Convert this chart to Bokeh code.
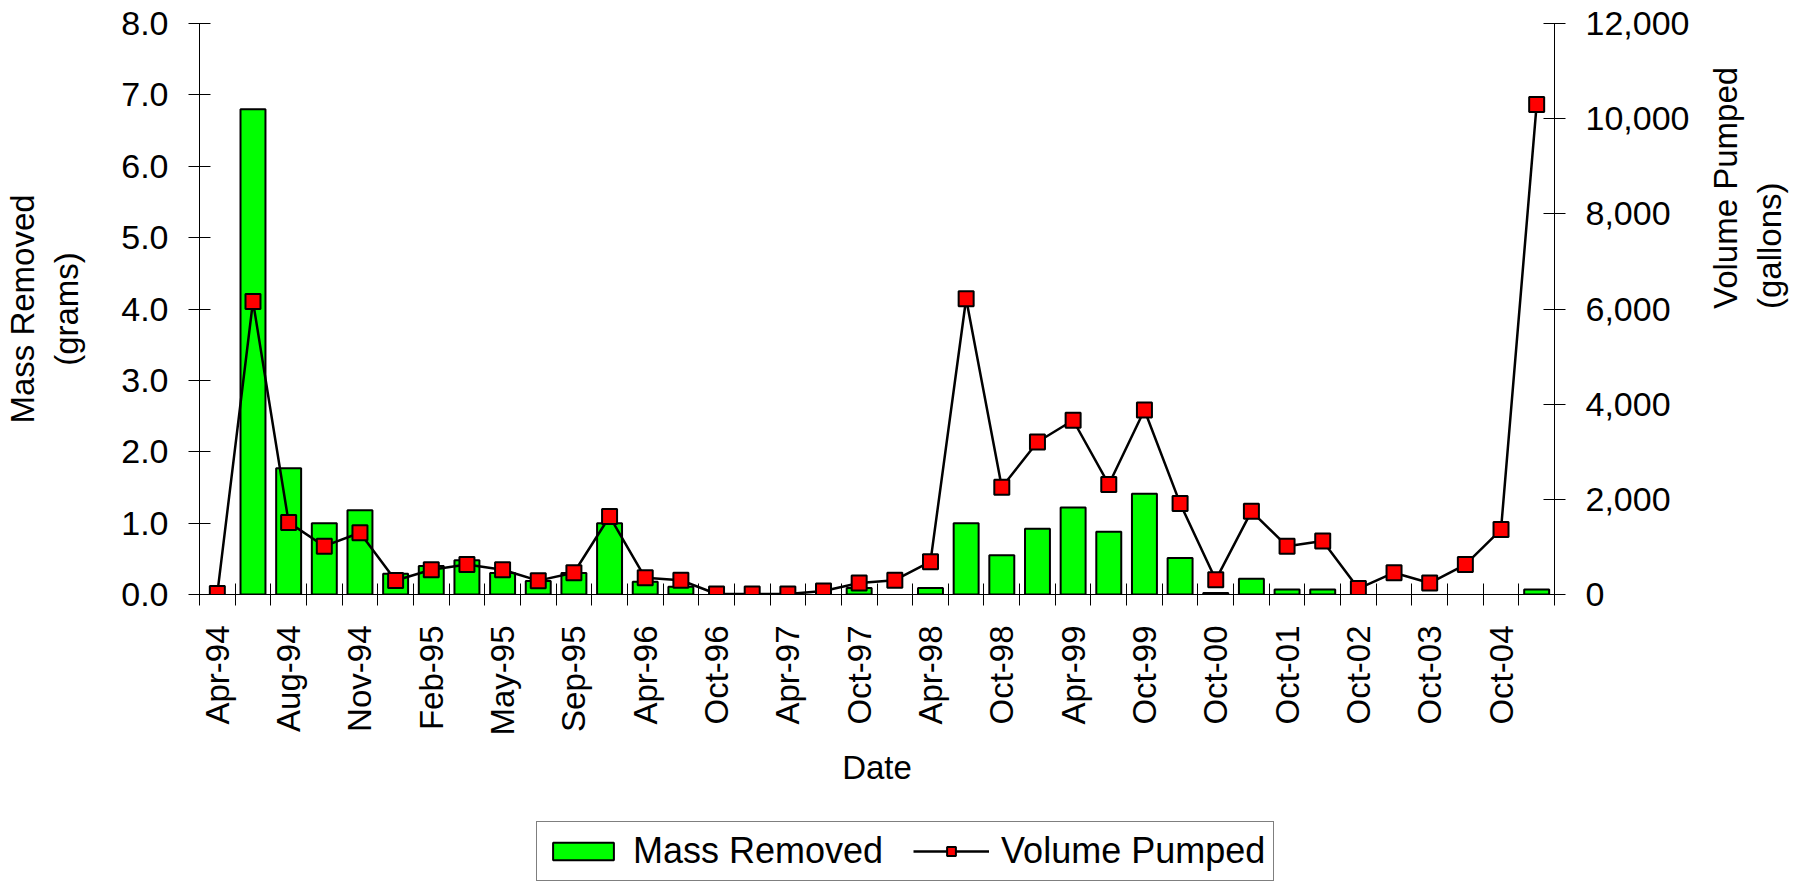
import math
from bokeh.plotting import figure
from bokeh.layouts import column
from bokeh.models import (Range1d, LinearAxis, FixedTicker, NumeralTickFormatter,
                          Legend, LegendItem, ColumnDataSource)
from bokeh.embed import file_html
from bokeh.resources import INLINE

# ---------------- data ----------------
tick_labels = ["Apr-94", "Aug-94", "Nov-94", "Feb-95", "May-95", "Sep-95", "Apr-96",
               "Oct-96", "Apr-97", "Oct-97", "Apr-98", "Oct-98", "Apr-99", "Oct-99",
               "Oct-00", "Oct-01", "Oct-02", "Oct-03", "Oct-04"]
# one entry per sampling event (38 events, every 2nd one labelled)
mass_removed = [None, 6.8, 1.77, 1.0, 1.18, 0.29, 0.40, 0.48, 0.30, 0.19,
                0.30, 1.0, 0.18, 0.11, None, None, None, None, 0.09, None,
                0.09, 1.0, 0.55, 0.92, 1.22, 0.88, 1.41, 0.51, 0.02, 0.22,
                0.07, 0.07, None, None, None, None, None, 0.07]
volume_pumped = [20, 6160, 1515, 1015, 1298, 295, 520, 630, 520, 291,
                 458, 1640, 350, 300, 10, 10, 10, 75, 240, 300,
                 690, 6216, 2255, 3204, 3662, 2313, 3878, 1914, 308, 1748,
                 1015, 1123, 125, 458, 241, 630, 1364, 10300]

n = len(volume_pumped)
idx = list(range(n))
src = ColumnDataSource(dict(
    x=idx,
    mass=[float("nan") if v is None else v for v in mass_removed],
    vol=volume_pumped,
))

# ---------------- layout / style ----------------
FONT = "Liberation Sans"
CANVAS_W = 1800
FRAME_L, FRAME_T, FRAME_W, FRAME_H = 194, 23, 1355, 571
MAIN_H = 808
LEG_H = 76
FRAME_B = FRAME_T + FRAME_H

BAR_STYLE = dict(fill_color="#00FF00", line_color="black", line_width=2)
LINE_STYLE = dict(line_color="black", line_width=2.5)
MARK_STYLE = dict(marker="square", size=15, fill_color="#FF0000", line_color="black", line_width=2)

p = figure(width=CANVAS_W, height=MAIN_H,
           frame_width=FRAME_W, frame_height=FRAME_H,
           min_border_left=FRAME_L, min_border_top=FRAME_T,
           min_border_right=CANVAS_W - FRAME_L - FRAME_W,
           min_border_bottom=MAIN_H - FRAME_B,
           x_range=Range1d(-0.5, n - 0.5), y_range=Range1d(0, 8),
           output_backend="svg", toolbar_location=None)
p.outline_line_color = None
p.xgrid.visible = False
p.ygrid.visible = False
p.background_fill_color = "white"
p.border_fill_color = "white"

p.extra_y_ranges = {"vol": Range1d(0, 12000)}


def style_axis(ax, size):
    ax.major_label_text_font = FONT
    ax.major_label_text_font_size = size
    ax.major_label_text_color = "black"
    ax.axis_line_color = "black"
    ax.major_tick_line_color = "black"
    ax.axis_label_text_font = FONT
    ax.axis_label_text_font_size = "33px"
    ax.axis_label_text_font_style = "normal"
    ax.axis_label_text_color = "black"


# x axis
xa = p.xaxis[0]
style_axis(xa, "33px")
xa.ticker = FixedTicker(ticks=idx[::2], minor_ticks=[i - 0.5 for i in range(n + 1)])
xa.major_label_overrides = {i: lab for i, lab in zip(idx[::2], tick_labels)}
xa.major_label_orientation = math.pi / 2
xa.major_tick_in = 0
xa.major_tick_out = 0
xa.minor_tick_in = 11
xa.minor_tick_out = 11
xa.minor_tick_line_color = "black"
xa.major_label_standoff = 20
xa.axis_label = "Date"
xa.axis_label_standoff = 10

# left axis
ya = p.yaxis[0]
style_axis(ya, "34px")
ya.ticker = FixedTicker(ticks=[0, 1, 2, 3, 4, 5, 6, 7, 8])
ya.formatter = NumeralTickFormatter(format="0.0")
ya.major_tick_in = 11
ya.major_tick_out = 11
ya.minor_tick_line_color = None
ya.major_label_standoff = 20
ya.axis_label = "Mass Removed\n(grams)"
ya.axis_label_standoff = 33

# right axis
ra = LinearAxis(y_range_name="vol",
                ticker=FixedTicker(ticks=[0, 2000, 4000, 6000, 8000, 10000, 12000]),
                formatter=NumeralTickFormatter(format="0,0"))
style_axis(ra, "34px")
ra.major_tick_in = 11
ra.major_tick_out = 11
ra.minor_tick_line_color = None
ra.major_label_standoff = 20
ra.axis_label = "Volume Pumped\n(gallons)"
ra.axis_label_standoff = 55
if "axis_label_orientation" in ra.properties():
    ra.axis_label_orientation = math.pi / 2
p.add_layout(ra, "right")

# glyphs
p.vbar(x="x", top="mass", bottom=0, width=0.7, source=src, **BAR_STYLE)
p.line(x="x", y="vol", source=src, y_range_name="vol", **LINE_STYLE)
p.scatter(x="x", y="vol", source=src, y_range_name="vol", **MARK_STYLE)

# ---------------- legend strip below the chart ----------------
# same series, drawn in a strip whose visible range holds none of them,
# so only the legend shows
q = figure(width=CANVAS_W, height=LEG_H, frame_width=CANVAS_W, frame_height=LEG_H,
           min_border=0, x_range=Range1d(-100, -99), y_range=Range1d(-100, -99),
           x_axis_location=None, y_axis_location=None,
           output_backend="svg", toolbar_location=None)
q.outline_line_color = None
q.xgrid.visible = False
q.ygrid.visible = False
q.background_fill_color = "white"
q.border_fill_color = "white"
lb = q.vbar(x="x", top="mass", bottom=0, width=0.7, source=src, **BAR_STYLE)
ll = q.line(x="x", y="vol", source=src, **LINE_STYLE)
lp = q.scatter(x="x", y="vol", source=src, **MARK_STYLE)

legend = Legend(items=[LegendItem(label="Mass Removed", renderers=[lb]),
                       LegendItem(label="Volume Pumped", renderers=[ll, lp])],
                orientation="horizontal",
                location=(536, 3),
                label_text_font=FONT, label_text_font_size="36px",
                label_text_color="black",
                glyph_width=76, glyph_height=22, label_standoff=12, spacing=30,
                padding=8, margin=0,
                border_line_color="black", border_line_width=1,
                background_fill_color="white", background_fill_alpha=1.0)
q.add_layout(legend)

layout = column(p, q, spacing=0)
open("out.html", "w").write(file_html(layout, INLINE))
